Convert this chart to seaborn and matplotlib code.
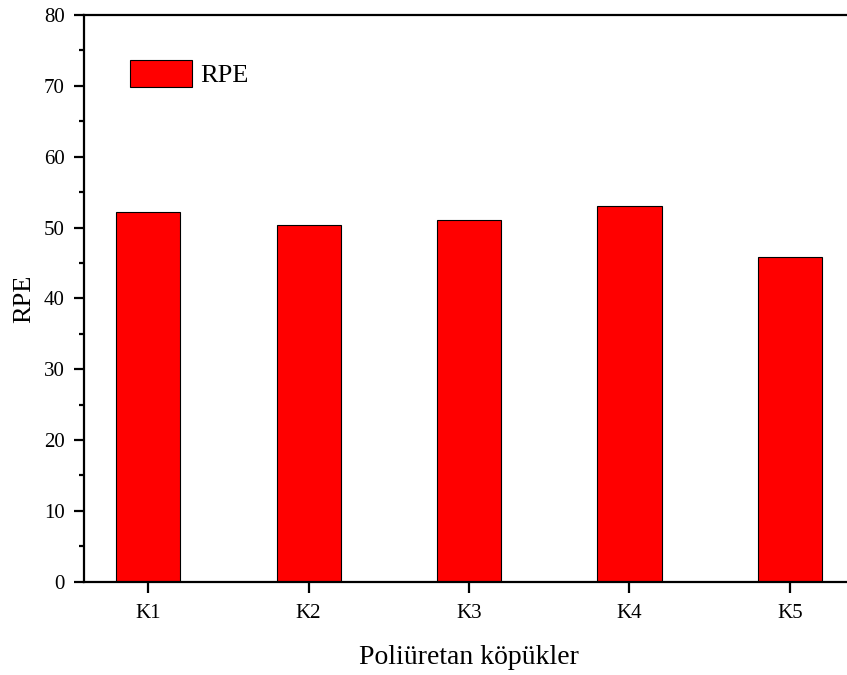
import matplotlib
matplotlib.use("Agg")
import matplotlib.pyplot as plt
import seaborn as sns
import pandas as pd
from matplotlib.ticker import MultipleLocator

categories = ["K1", "K2", "K3", "K4", "K5"]
rpe_values = [52.2, 50.3, 51.0, 53.1, 45.9]

sns.set_style("ticks")
plt.rcParams["font.family"] = ["Liberation Serif", "DejaVu Serif"]
plt.rcParams["text.color"] = "black"
plt.rcParams["axes.labelcolor"] = "black"
plt.rcParams["xtick.color"] = "black"
plt.rcParams["ytick.color"] = "black"

df = pd.DataFrame({"cat": categories, "RPE": rpe_values})

fig = plt.figure(figsize=(8.47, 6.75), dpi=100)
ax = fig.add_axes([84 / 847, 1 - 581.7 / 675, 770 / 847, 566.7 / 675])

sns.barplot(data=df, x="cat", y="RPE", color="#ff0000", saturation=1,
            edgecolor="black", linewidth=0.8, width=0.4, label="RPE", ax=ax)

ax.set_xlim(-0.4, 4.4)
ax.set_ylim(0, 80)
ax.yaxis.set_major_locator(MultipleLocator(10))
ax.yaxis.set_minor_locator(MultipleLocator(5))

for s in ax.spines.values():
    s.set_linewidth(1.6)
    s.set_color("black")

ax.tick_params(axis="y", which="major", direction="out", length=7, width=1.6,
               labelsize=15, pad=7, right=False, colors="black")
ax.tick_params(axis="y", which="minor", direction="out", length=3.5, width=1.6,
               right=False, colors="black")
ax.tick_params(axis="x", which="major", direction="out", length=8, width=1.6,
               labelsize=15, pad=8, top=False, colors="black")
ax.tick_params(axis="x", which="minor", bottom=False, top=False)

ax.set_xlabel("Poliüretan köpükler", fontsize=20, labelpad=16)
ax.set_ylabel("RPE", fontsize=19, labelpad=6)

ax.legend(loc="center left", bbox_to_anchor=(0.0597, 0.896), frameon=False,
          fontsize=19, handlelength=2.35, handleheight=1.15,
          handletextpad=0.3, borderpad=0, borderaxespad=0)

fig.savefig("out.png", dpi=100)
